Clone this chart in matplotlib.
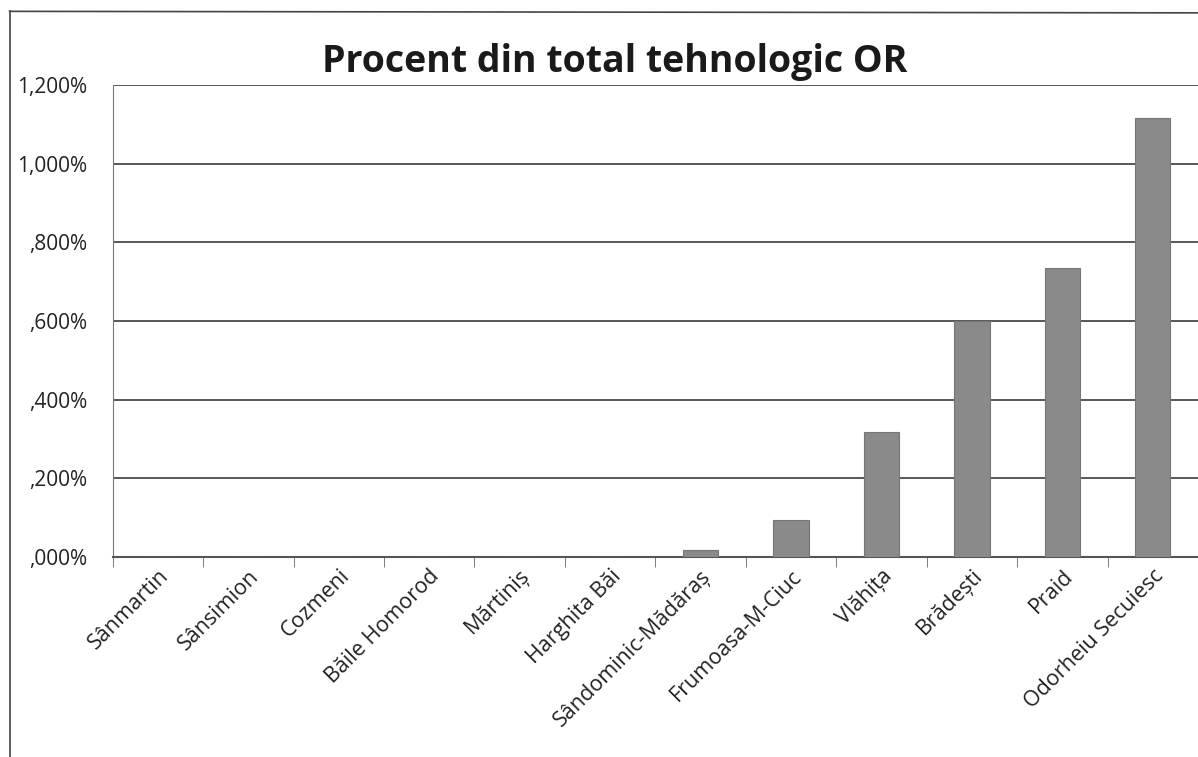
import matplotlib.pyplot as plt
from matplotlib.ticker import FuncFormatter, FixedLocator

# date (procente)
localitati = ['Sânmartin', 'Sânsimion', 'Cozmeni', 'Băile Homorod', 'Mărtiniș',
              'Harghita Băi', 'Sândominic-Mădăraș', 'Frumoasa-M-Ciuc', 'Vlăhița',
              'Brădești', 'Praid', 'Odorheiu Secuiesc']
procent = [0.0, 0.0, 0.0, 0.0, 0.0, 0.0, 0.018, 0.094, 0.318, 0.600, 0.735, 1.116]
yticks = [0.0, 0.2, 0.4, 0.6, 0.8, 1.0, 1.2]

plt.rcParams['font.family'] = ['Open Sans', 'DejaVu Sans']

fig = plt.figure(figsize=(11.98, 7.57), dpi=100)
ax = fig.add_axes([0.094, 0.264, 0.906, 0.624])

x = list(range(len(localitati)))
ax.bar(x, procent, width=0.39, color='#8a8a8a', edgecolor='#767676', linewidth=0.8, zorder=3)

ax.set_xlim(-0.5, len(localitati) - 0.5)
ax.set_ylim(0, 1.2)
ax.set_yticks(yticks)


def fmt(v, pos):
    s = f'{v:.3f}%'.replace('.', ',')
    if s.startswith('0,'):
        s = s[1:]
    return s


ax.yaxis.set_major_formatter(FuncFormatter(fmt))
ax.yaxis.grid(True, color='#4a4a4a', linewidth=1.3, zorder=0)
ax.tick_params(axis='y', length=0, labelsize=15, pad=18, colors='#222222')

ax.set_xticks(x)
ax.set_xticklabels(localitati, rotation=45, ha='right', rotation_mode='anchor',
                   fontsize=15.5, color='#222222')
ax.tick_params(axis='x', length=0, pad=6)
ax.xaxis.set_minor_locator(FixedLocator([i - 0.5 for i in range(len(localitati) + 1)]))
ax.tick_params(axis='x', which='minor', length=7, color='#666666', direction='out')

for s in ['top', 'right']:
    ax.spines[s].set_visible(False)
ax.spines['bottom'].set_color('#555555')
ax.spines['bottom'].set_linewidth(1.5)
ax.spines['left'].set_color('#777777')

fig.text(0.513, 0.918, 'Procent din total tehnologic OR', ha='center', va='center',
         fontsize=27, fontweight='bold', color='#1a1a1a')

# chenarul diagramei
fig.add_artist(plt.Line2D([0.008, 0.008], [0.0, 0.985], color='#444444', linewidth=1.2))
fig.add_artist(plt.Line2D([0.008, 1.0], [0.985, 0.983], color='#444444', linewidth=1.2))

fig.savefig('out.png', dpi=100)
